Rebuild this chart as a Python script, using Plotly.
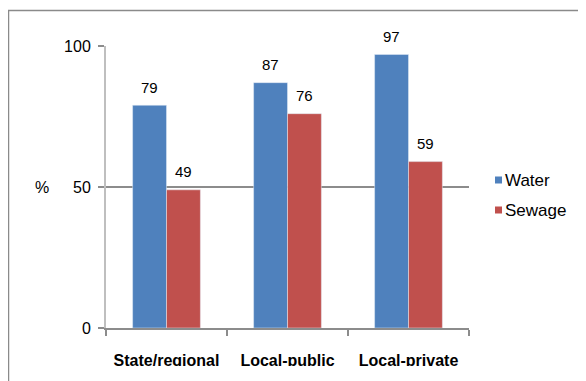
import plotly.graph_objects as go

categories = ["State/regional", "Local-public", "Local-private"]
series_names = ["Water", "Sewage"]
water = [79, 87, 97]
sewage = [49, 76, 59]
y_ticks = [0, 50, 100]

BLUE = "#4F81BD"
RED = "#C0504D"
FONT = "Liberation Sans, Arial, sans-serif"

# page body has an 8px margin, so the figure is drawn 8px smaller
W, H = 578, 373
L, T, PW, PH = 98, 38, 363, 282
OFF = 8  # screen offset of the figure


def px_x(sx):
    return (sx - OFF - L) / PW


def px_y(sy):
    return (T + PH - (sy - OFF)) / PH


fig = go.Figure()
fig.add_trace(go.Bar(name=series_names[0], x=categories, y=water, marker_color=BLUE, showlegend=False))
fig.add_trace(go.Bar(name=series_names[1], x=categories, y=sewage, marker_color=RED, showlegend=False))

# data labels
BARW = 34
for i, (w, s) in enumerate(zip(water, sewage)):
    for val, off in ((w, -0.5), (s, 0.5)):
        fig.add_annotation(x=i, y=val, xref="x", yref="y", text=str(val),
                           showarrow=False, yshift=18, xshift=off * BARW,
                           font=dict(size=15, color="#000", family=FONT))

# "%" label
fig.add_annotation(x=px_x(42), y=px_y(187), xref="paper", yref="paper",
                   text="%", showarrow=False, xanchor="center", yanchor="middle",
                   font=dict(size=16, color="#000", family=FONT))

# custom legend (small squares + names)
for name, col, cy in ((series_names[0], BLUE, 180), (series_names[1], RED, 210)):
    fig.add_shape(type="rect", xref="paper", yref="paper",
                  x0=px_x(495), x1=px_x(502), y0=px_y(cy + 3.5), y1=px_y(cy - 3.5),
                  line=dict(width=0), fillcolor=col)
    fig.add_annotation(x=px_x(503), y=px_y(cy), xref="paper", yref="paper",
                       text=name, showarrow=False, xanchor="left", yanchor="middle",
                       font=dict(size=17, color="#000", family=FONT))

# outer border
fig.add_shape(type="rect", xref="paper", yref="paper",
              x0=px_x(8.5), x1=2.0, y0=-1.0, y1=px_y(10.5),
              line=dict(color="#8A8A8A", width=1.5), fillcolor="rgba(0,0,0,0)",
              layer="below")

# the original chart is cropped just under the category labels
fig.add_shape(type="rect", xref="paper", yref="paper",
              x0=px_x(95), x1=px_x(500), y0=px_y(390), y1=px_y(366),
              line=dict(width=0), fillcolor="white", layer="above")

fig.update_layout(
    width=W, height=H,
    margin=dict(l=L, r=W - L - PW, t=T, b=H - T - PH, autoexpand=False),
    paper_bgcolor="white", plot_bgcolor="white",
    barmode="group", bargap=0.44, bargroupgap=0,
    font=dict(family=FONT, size=14, color="#000"),
    showlegend=False,
)
fig.update_xaxes(
    automargin=False, tickangle=0,
    showline=True, linecolor="#8C8C8C", linewidth=1.5,
    ticks="outside", tickson="boundaries", ticklen=6, tickcolor="#8C8C8C", tickwidth=1.5,
    ticklabelstandoff=17,
    tickfont=dict(size=16, color="#000", family=FONT, weight="bold"),
    showgrid=False,
)
fig.update_yaxes(
    automargin=False,
    range=[0, 100], tickvals=y_ticks, ticktext=[str(t) for t in y_ticks],
    showgrid=True, gridcolor="#8C8C8C", gridwidth=1.5,
    showline=True, linecolor="#BFBFBF", linewidth=2,
    ticks="outside", ticklen=6, tickcolor="#8C8C8C", tickwidth=1.5,
    ticklabelstandoff=4,
    tickfont=dict(size=16, color="#000", family=FONT),
    zeroline=False,
)

fig.write_html("out.html")
